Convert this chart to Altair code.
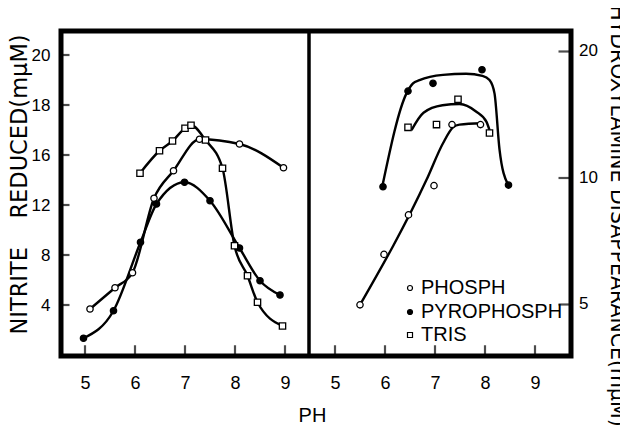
import altair as alt
import pandas as pd

# ---------------- data ----------------
SERIES = ["PHOSPH", "PYROPHOSPH", "TRIS"]
SHAPES = {"PHOSPH": "circle", "PYROPHOSPH": "circle", "TRIS": "square"}
FILLS = {"PHOSPH": "white", "PYROPHOSPH": "black", "TRIS": "white"}

# Left panel: nitrite reduced (axis units; printed labels 4,8,12,16,18,20)
PHOSPH_L_PH = [5.10, 5.60, 5.95, 6.38, 6.77, 7.29, 8.09, 8.97]
PHOSPH_L_VAL = [3.68, 5.38, 6.58, 12.54, 14.74, 17.26, 16.88, 14.98]
PYRO_L_PH = [4.97, 5.57, 6.11, 6.43, 6.99, 7.50, 8.09, 8.50, 8.90]
PYRO_L_VAL = [1.34, 3.54, 9.02, 12.08, 13.82, 12.34, 8.56, 5.94, 4.80]
TRIS_L_PH = [6.10, 6.49, 6.75, 7.00, 7.12, 7.41, 7.75, 7.99, 8.25, 8.45, 8.95]
TRIS_L_VAL = [14.54, 16.34, 17.12, 18.14, 18.38, 17.20, 14.94, 8.74, 6.34, 4.22, 2.32]

# Right panel: hydroxylamine disappearance (log axis)
PHOSPH_R_PH = [5.50, 5.98, 6.47, 6.98, 7.34, 7.91]
PHOSPH_R_VAL = [4.99, 6.58, 8.17, 9.59, 13.4, 13.4]
PYRO_R_PH = [5.96, 6.46, 6.96, 7.94, 8.47]
PYRO_R_VAL = [9.53, 16.1, 16.8, 18.1, 9.62]
TRIS_R_PH = [6.46, 7.03, 7.46, 8.09]
TRIS_R_VAL = [13.2, 13.4, 15.4, 12.8]

# Right panel hand-drawn curves
PHOSPH_FIT_PH = [5.50, 6.83, 7.16, 7.36, 7.49, 7.93]
PHOSPH_FIT_VAL = [4.99, 9.9, 12.1, 13.2, 13.4, 13.5]
PYRO_FIT_PH = [5.95, 6.43, 6.56, 6.69, 7.16, 7.62, 7.95, 8.09, 8.19, 8.29, 8.45]
PYRO_FIT_VAL = [9.6, 15.9, 16.8, 17.1, 17.6, 17.7, 17.5, 17.1, 15.9, 11.7, 9.7]
TRIS_FIT_PH = [6.53, 6.77, 7.15, 7.49, 7.82, 8.03, 8.09]
TRIS_FIT_VAL = [13.0, 14.3, 14.9, 15.0, 14.4, 13.6, 13.0]

PH_TICKS = [5, 6, 7, 8, 9]
LEFT_TICKS = [4, 8, 12, 16, 20, 24]
LEFT_LABELS = ["4", "8", "12", "16", "18", "20"]
RIGHT_TICKS = [5, 10, 20]
RIGHT_TITLE = "HYDROXYLAMINE DISAPPEARANCE(mμM)"

PANEL_SHIFT = 5  # right panel pH offset on the shared x scale

# ---------------- tables ----------------
def frame(phs, vals, name, shift=0):
    return pd.DataFrame({"x": [p + shift for p in phs], "w": vals, "series": name})

left_sets = {
    "PHOSPH": frame(PHOSPH_L_PH, PHOSPH_L_VAL, "PHOSPH").rename(columns={"w": "v"}),
    "PYROPHOSPH": frame(PYRO_L_PH, PYRO_L_VAL, "PYROPHOSPH").rename(columns={"w": "v"}),
    "TRIS": frame(TRIS_L_PH, TRIS_L_VAL, "TRIS").rename(columns={"w": "v"}),
}
right_sets = {
    "PHOSPH": frame(PHOSPH_R_PH, PHOSPH_R_VAL, "PHOSPH", PANEL_SHIFT),
    "PYROPHOSPH": frame(PYRO_R_PH, PYRO_R_VAL, "PYROPHOSPH", PANEL_SHIFT),
    "TRIS": frame(TRIS_R_PH, TRIS_R_VAL, "TRIS", PANEL_SHIFT),
}
left_all = pd.concat(list(left_sets.values()))
right_fit = pd.concat([
    frame(PHOSPH_FIT_PH, PHOSPH_FIT_VAL, "PHOSPH", PANEL_SHIFT),
    frame(PYRO_FIT_PH, PYRO_FIT_VAL, "PYROPHOSPH", PANEL_SHIFT),
    frame(TRIS_FIT_PH, TRIS_FIT_VAL, "TRIS", PANEL_SHIFT),
])

X0, X1 = 4.5, 14.74
Y0, Y1 = -0.16, 26.0
R0, R1 = 3.75, 22.5          # log range of the right axis over the same height
DIVIDER = 9.48

# map the right (log) values onto the shared vertical scale
LOGMAP = f"{Y0} + (log(datum.w) - log({R0})) / (log({R1}) - log({R0})) * ({Y1} - ({Y0}))"

ly_ticks = pd.DataFrame({"v": LEFT_TICKS, "x": [X0 + 0.1] * len(LEFT_TICKS)})
x_ticks = pd.DataFrame({"x": PH_TICKS + [t + PANEL_SHIFT for t in PH_TICKS], "v": [Y0 + 0.5] * 10})
ry_ticks = pd.DataFrame({"w": RIGHT_TICKS, "x": [X1 - 0.14] * len(RIGHT_TICKS)})
r_labels = pd.DataFrame({"w": RIGHT_TICKS})
# frame lines set half a stroke inside the plot edges
vlines = pd.DataFrame({"x": [X0 + 0.035, DIVIDER, X1 - 0.035]})
hlines = pd.DataFrame({"v": [Y0 + 0.14, Y1 - 0.14]})

# ---------------- scales / axes ----------------
NUMFONT = "Liberation Sans"
TFONT = "DejaVu Sans"
W, H = 512, 327

xscale = alt.Scale(domain=[X0, X1], nice=False, zero=False)
lscale = alt.Scale(domain=[Y0, Y1], nice=False, zero=False)

label_map = "{" + ",".join(f"'{t}':'{l}'" for t, l in zip(LEFT_TICKS, LEFT_LABELS)) + "}"

xaxis = alt.Axis(values=PH_TICKS + [t + PANEL_SHIFT for t in PH_TICKS],
                 labelExpr=f"datum.value > {DIVIDER} ? datum.value - {PANEL_SHIFT} : datum.value",
                 ticks=False, domain=False, grid=False,
                 labelFont=NUMFONT, labelFontSize=18, labelPadding=17, labelColor="black",
                 title="PH", titleFont=NUMFONT, titleFontSize=20, titleFontWeight="normal",
                 titleColor="black", titleX=252, titleY=58, titleAlign="center",
                 titleBaseline="middle")
lyaxis = alt.Axis(values=LEFT_TICKS, labelExpr=f"{label_map}[datum.value]",
                  ticks=False, domain=False, grid=False,
                  labelFont=NUMFONT, labelFontSize=17, labelPadding=10, labelColor="black",
                  title="NITRITE\u00a0\u00a0\u00a0\u00a0REDUCED(mμM)", titleFont=TFONT,
                  titleFontSize=22.5, titleFontWeight="normal", titleColor="black",
                  titleAngle=-90, titleX=-41, titleY=154, titleAlign="center",
                  titleBaseline="middle")

LW = 2.4

def xq():
    return alt.X("x:Q", scale=xscale, axis=xaxis)

def yq():
    return alt.Y("v:Q", scale=lscale, axis=lyaxis)

layers = []

# frame and divider first (under the data)
layers.append(alt.Chart(vlines).mark_rule(color="black", strokeWidth=3.5).encode(x=xq()))
layers.append(alt.Chart(hlines).mark_rule(color="black", strokeWidth=3.5).encode(y=yq()))

# inward ticks
layers.append(alt.Chart(ly_ticks).mark_tick(color="black", orient="horizontal", size=9, thickness=2.2).encode(
    x=xq(), y=yq()))
layers.append(alt.Chart(x_ticks).mark_tick(color="black", orient="vertical", size=11, thickness=2.2).encode(
    x=xq(), y=yq()))
layers.append(alt.Chart(ry_ticks).transform_calculate(v=LOGMAP).mark_tick(
    color="black", orient="horizontal", size=13, thickness=2.2).encode(x=xq(), y=yq()))

# curves
layers.append(alt.Chart(left_all).mark_line(interpolate="monotone", color="black", strokeWidth=LW).encode(
    x=xq(), y=yq(), detail="series:N"))
layers.append(alt.Chart(right_fit).transform_calculate(v=LOGMAP).mark_line(
    interpolate="monotone", color="black", strokeWidth=LW).encode(x=xq(), y=yq(), detail="series:N"))

# points
for s in SERIES:
    layers.append(alt.Chart(left_sets[s]).mark_point(
        shape=SHAPES[s], filled=True, fill=FILLS[s], stroke="black", strokeWidth=1.3, size=40, opacity=1
    ).encode(x=xq(), y=yq()))
    layers.append(alt.Chart(right_sets[s]).transform_calculate(v=LOGMAP).mark_point(
        shape=SHAPES[s], filled=True, fill=FILLS[s], stroke="black", strokeWidth=1.3, size=40, opacity=1
    ).encode(x=xq(), y=yq()))

# right-hand axis labels and title
layers.append(alt.Chart(r_labels).transform_calculate(v=LOGMAP).mark_text(
    align="left", baseline="middle", font=NUMFONT, fontSize=17, color="black"
).encode(x=alt.value(W + 7), y=yq(), text=alt.Text("w:Q")))
layers.append(alt.Chart(pd.DataFrame({"t": [RIGHT_TITLE]})).mark_text(
    angle=90, align="center", baseline="middle", font=TFONT, fontSize=20.5, color="black"
).encode(x=alt.value(W + 45), y=alt.value(186), text="t:N"))

# legend (drawn as marks)
LEG_ROWS = [258, 282, 305]
for s, yy in zip(SERIES, LEG_ROWS):
    d = pd.DataFrame({"label": [s]})
    layers.append(alt.Chart(d).mark_point(
        shape=SHAPES[s], filled=True, fill=FILLS[s], stroke="black", strokeWidth=1.2, size=25, opacity=1
    ).encode(x=alt.value(350), y=alt.value(yy)))
    layers.append(alt.Chart(d).mark_text(
        align="left", baseline="middle", font=NUMFONT, fontSize=20, color="black"
    ).encode(x=alt.value(361), y=alt.value(yy), text="label:N"))

chart = alt.layer(*layers).properties(
    width=W, height=H,
    background="white",
    autosize=alt.AutoSizeParams(type="none"),
    padding={"left": 52, "top": 22, "right": 48, "bottom": 76},
).configure_view(stroke="black", strokeWidth=3)

chart.save("out.html", embed_options={"renderer": "svg", "actions": False})
